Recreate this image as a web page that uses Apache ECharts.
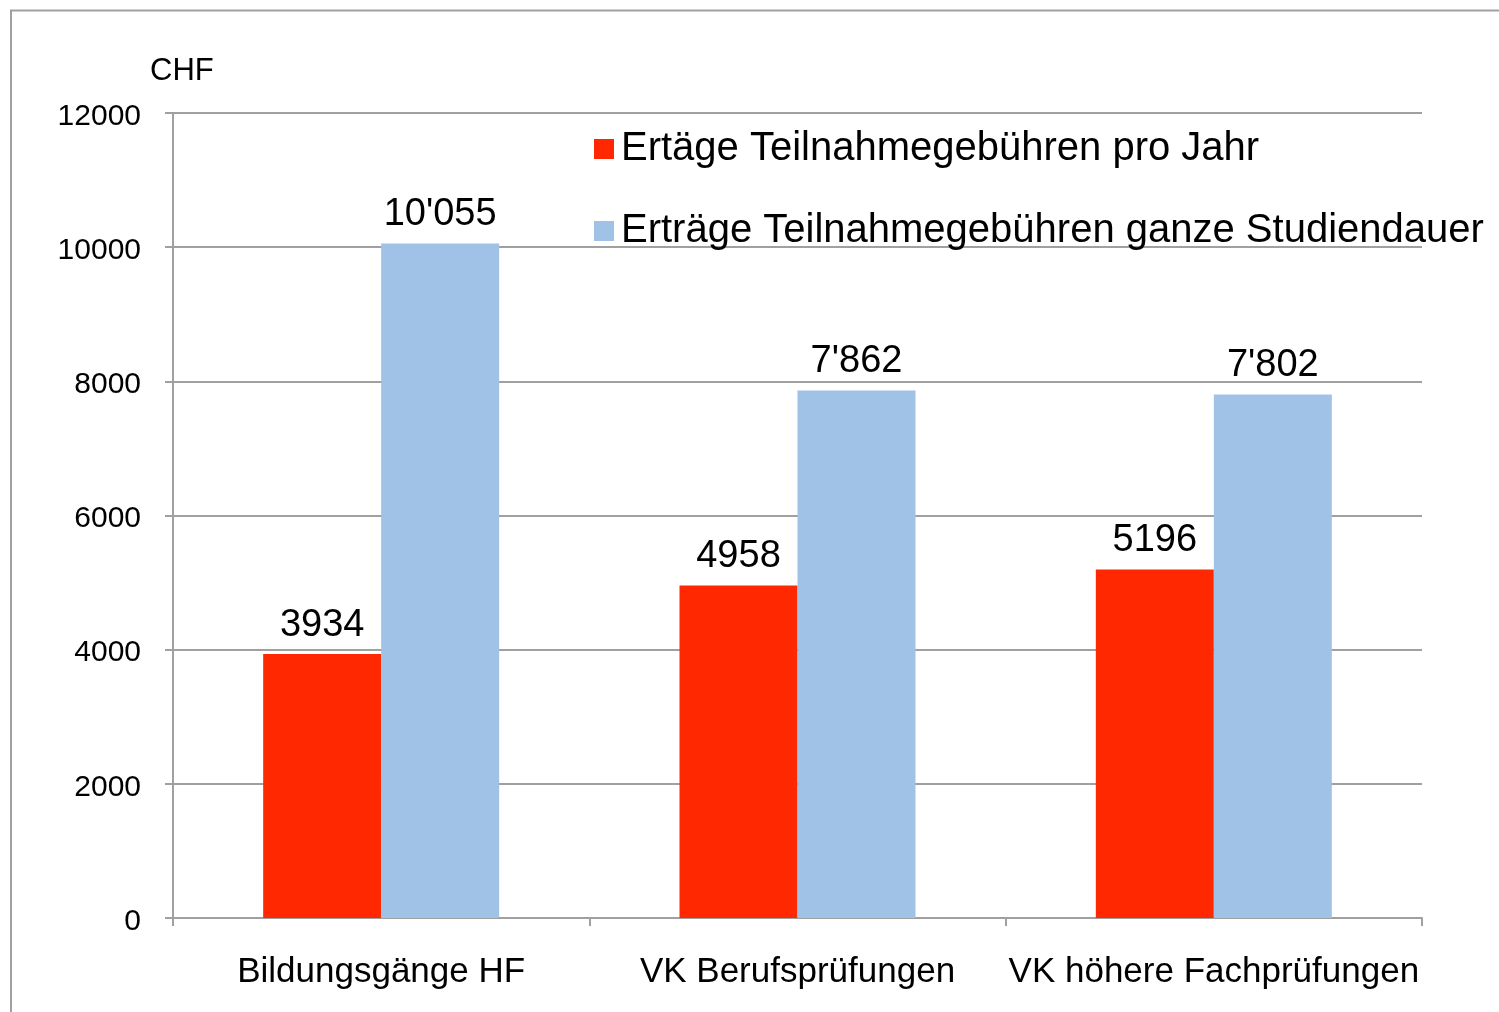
<!DOCTYPE html>
<html>
<head>
<meta charset="utf-8">
<script src="https://cdn.jsdelivr.net/npm/echarts@6/dist/echarts.min.js"></script>
<style>
  html, body { margin: 0; padding: 0; background: #fff; }
  #main { width: 1499px; height: 1012px; }
</style>
</head>
<body>
<div id="main"></div>
<script>
// data
var categories = ['Bildungsgänge HF', 'VK Berufsprüfungen', 'VK höhere Fachprüfungen'];
var proJahr = [3934, 4958, 5196];
var ganzeDauer = [10055, 7862, 7802];
var yTicks = { min: 0, max: 12000, step: 2000 };

var nameJahr = 'Ertäge Teilnahmegebühren pro Jahr';
var nameDauer = 'Erträge Teilnahmegebühren ganze Studiendauer';

var gray = '#A0A0A0';
var font = 'Liberation Sans, Arial, sans-serif';

// swiss thousands separator: 10055 -> 10'055
function swiss(v) {
  return String(v).replace(/\B(?=(\d{3})+(?!\d))/g, "'");
}

var chart = echarts.init(document.getElementById('main'));

var legendText = { fontFamily: font, fontSize: 40, color: '#000', lineHeight: 40, padding: [0, 0, 0, 2] };

chart.setOption({
  animation: false,
  backgroundColor: '#fff',
  textStyle: { fontFamily: font },
  grid: { left: 173, right: 77, top: 113, bottom: 94 },
  legend: [
    { data: [nameJahr], left: 589, top: 124, icon: 'rect', itemWidth: 20, itemHeight: 20, textStyle: legendText },
    { data: [nameDauer], left: 589, top: 206, icon: 'rect', itemWidth: 20, itemHeight: 20, textStyle: legendText }
  ],
  graphic: [
    {
      type: 'rect', silent: true, z: -1,
      shape: { x: 11, y: 10.5, width: 1600, height: 1100 },
      style: { fill: 'none', stroke: gray, lineWidth: 2 }
    },
    {
      type: 'text', left: 150, top: 56,
      style: { text: 'CHF', font: '31px ' + font, fill: '#000' }
    }
  ],
  xAxis: {
    type: 'category',
    data: categories,
    axisLine: { lineStyle: { color: gray, width: 2 } },
    axisTick: { show: true, length: 8, lineStyle: { color: gray, width: 2 } },
    axisLabel: { color: '#000', fontSize: 35, margin: 37, interval: 0, fontFamily: font }
  },
  yAxis: {
    type: 'value',
    min: yTicks.min, max: yTicks.max, interval: yTicks.step,
    axisLine: { show: true, lineStyle: { color: gray, width: 2 } },
    axisTick: { show: true, length: 8, lineStyle: { color: gray, width: 2 } },
    axisLabel: {
      color: '#000', fontSize: 30, margin: 32, fontFamily: font,
      formatter: function (v) { return '{n|' + v + '}'; },
      rich: { n: { fontSize: 30, fontFamily: font, color: '#000', padding: [7, 0, 0, 0] } }
    },
    splitLine: { lineStyle: { color: gray, width: 2 } }
  },
  series: [
    {
      name: nameJahr, type: 'bar', data: proJahr,
      barWidth: 118, barGap: '0%',
      itemStyle: { color: '#FF2800' },
      label: { show: true, position: 'top', distance: 10, color: '#000', fontSize: 38, fontFamily: font }
    },
    {
      name: nameDauer, type: 'bar', data: ganzeDauer,
      barWidth: 118, barGap: '0%',
      itemStyle: { color: '#A0C2E7' },
      label: {
        show: true, position: 'top', distance: 10, color: '#000', fontSize: 38, fontFamily: font,
        formatter: function (p) { return swiss(p.value); }
      }
    }
  ]
});
</script>
</body>
</html>
